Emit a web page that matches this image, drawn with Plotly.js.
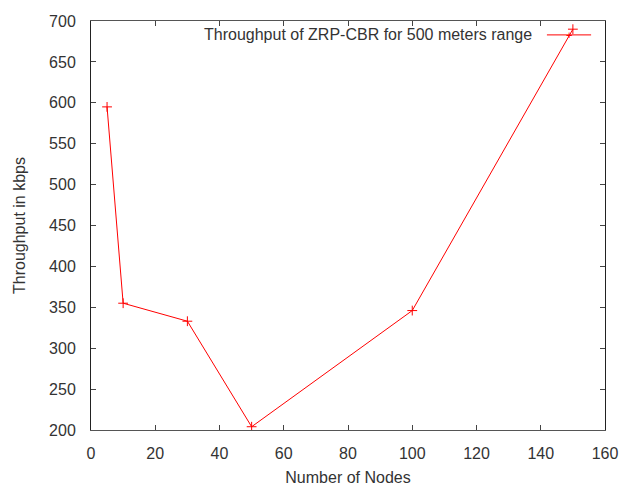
<!DOCTYPE html>
<html>
<head>
<meta charset="utf-8">
<script src="https://cdn.plot.ly/plotly-3.0.1.min.js"></script>
<style>html,body{margin:0;padding:0;background:#fff;}#chart{width:635px;height:486px;}</style>
</head>
<body>
<div id="chart"></div>
<script>
const nodes = [5, 10, 30, 50, 100, 150];
const throughput = [595, 355, 333, 204, 346, 690];
const seriesName = "Throughput of ZRP-CBR for 500 meters range";
const xTitle = "Number of Nodes";
const yTitle = "Throughput in kbps";

const font = {family: "Liberation Sans, Arial, sans-serif", size: 16, color: "#333333"};

const trace = {
  x: nodes, y: throughput, type: "scatter", mode: "lines+markers",
  line: {color: "#ff0000", width: 1},
  marker: {symbol: "cross-thin-open", size: 7, color: "#ff0000", line: {color: "#ff0000", width: 1}},
  showlegend: false, name: seriesName
};

const layout = {
  width: 635, height: 486,
  margin: {l: 91, r: 30, t: 21, b: 56},
  paper_bgcolor: "#fff", plot_bgcolor: "#fff",
  font: font,
  xaxis: {
    range: [0, 160], dtick: 20, ticks: "inside", ticklen: 5, tickcolor: "#444",
    showline: true, linecolor: "#555", linewidth: 1, mirror: "ticks",
    showgrid: false, zeroline: false, ticklabelstandoff: 9,
    title: {text: xTitle, font: font, standoff: 10}
  },
  yaxis: {
    range: [200, 700], dtick: 50, ticks: "inside", ticklen: 5, tickcolor: "#444",
    showline: true, linecolor: "#222", linewidth: 1, mirror: "ticks",
    showgrid: false, zeroline: false, ticklabelstandoff: 11,
    title: {text: yTitle, font: font, standoff: 19}
  },
  shapes: [
    {type: "line", xref: "paper", yref: "paper", x0: 0.887, x1: 0.973, y0: 0.966, y1: 0.966,
     line: {color: "#ff0000", width: 1}}
  ],
  annotations: [
    {xref: "paper", yref: "paper", x: 0.862, y: 0.966, xanchor: "right", yanchor: "middle",
     text: seriesName, showarrow: false, font: font},
    {xref: "paper", yref: "paper", x: 0.930, y: 0.966, xanchor: "center", yanchor: "middle",
     text: "+", showarrow: false, font: {family: "Liberation Sans", size: 11, color: "#ff0000"}}
  ]
};

Plotly.newPlot("chart", [trace], layout, {displayModeBar: false, staticPlot: true});
</script>
</body>
</html>
